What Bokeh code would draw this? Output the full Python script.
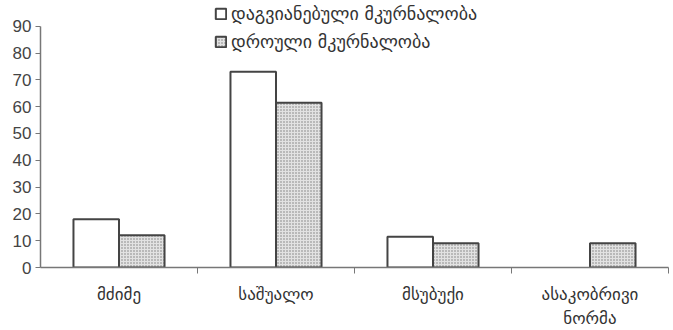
from bokeh.plotting import figure
from bokeh.models import ColumnDataSource, FixedTicker, Legend, LegendItem, Range1d
from bokeh.embed import file_html
from bokeh.resources import INLINE

categories = ["მძიმე", "საშუალო", "მსუბუქი", "ასაკობრივი\nნორმა"]
delayed = [18, 73, 11.5, 0]
timely = [12, 61.5, 9, 9]
series_names = ["დაგვიანებული მკურნალობა", "დროული მკურნალობა"]
y_ticks = [0, 10, 20, 30, 40, 50, 60, 70, 80, 90]

GEO = "DejaVu Sans"
LAT = "Liberation Sans"

idx = list(range(len(categories)))
bw = 0.29
src1 = ColumnDataSource(dict(left=[i + 0.5 - bw for i in idx], right=[i + 0.5 for i in idx], top=delayed,
                             lc=["#444444" if v > 0 else None for v in delayed]))
src2 = ColumnDataSource(dict(left=[i + 0.5 for i in idx], right=[i + 0.5 + bw for i in idx], top=timely,
                             lc=["#444444" if v > 0 else None for v in timely]))

p = figure(width=673, height=330, output_backend="svg", toolbar_location=None,
           x_range=Range1d(0, 4), y_range=Range1d(0, 99.6),
           min_border_left=40, min_border_right=5, min_border_top=0, min_border_bottom=63)
p.background_fill_color = "white"
p.border_fill_color = "white"
p.outline_line_color = None
p.grid.visible = False

r1 = p.quad(left="left", right="right", bottom=0, top="top", source=src1,
            fill_color="white", line_color="lc", line_width=2)
r2 = p.quad(left="left", right="right", bottom=0, top="top", source=src2,
            fill_color="#e2e2e2", hatch_pattern="dot", hatch_color="#7a7a7a",
            hatch_scale=3, hatch_weight=1, line_color="lc", line_width=2)

# x axis
xa = p.xaxis[0]
xa.ticker = FixedTicker(ticks=[i + 0.5 for i in idx], minor_ticks=[1, 2, 3, 4])
xa.major_label_overrides = {i + 0.5: c for i, c in zip(idx, categories)}
xa.major_tick_out = 0
xa.major_tick_in = 0
xa.minor_tick_out = 6
xa.minor_tick_in = 0
xa.axis_line_color = "#777777"
xa.axis_line_width = 1.5
xa.minor_tick_line_color = "#777777"
xa.major_label_text_font = GEO
xa.major_label_text_font_size = "17px"
xa.major_label_text_color = "#333333"
xa.major_label_standoff = 10

# y axis
ya = p.yaxis[0]
ya.ticker = FixedTicker(ticks=y_ticks)
ya.bounds = (0, 90)
ya.major_tick_out = 5
ya.major_tick_in = 0
ya.minor_tick_line_color = None
ya.axis_line_color = "#777777"
ya.axis_line_width = 1.5
ya.major_tick_line_color = "#777777"
ya.major_label_text_font = LAT
ya.major_label_text_font_size = "17px"
ya.major_label_text_color = "#444444"
ya.major_label_standoff = 4

legend = Legend(items=[LegendItem(label=series_names[0], renderers=[r1]),
                       LegendItem(label=series_names[1], renderers=[r2])],
                location=(174, 215), orientation="vertical")
legend.border_line_color = None
legend.background_fill_alpha = 0
legend.padding = 0
legend.margin = 0
legend.spacing = 6
legend.glyph_width = 13
legend.glyph_height = 13
legend.label_height = 22
legend.label_standoff = 4
legend.label_text_font = GEO
legend.label_text_font_size = "18px"
legend.label_text_color = "#333333"
p.add_layout(legend, "center")

open("out.html", "w").write(file_html(p, INLINE))
